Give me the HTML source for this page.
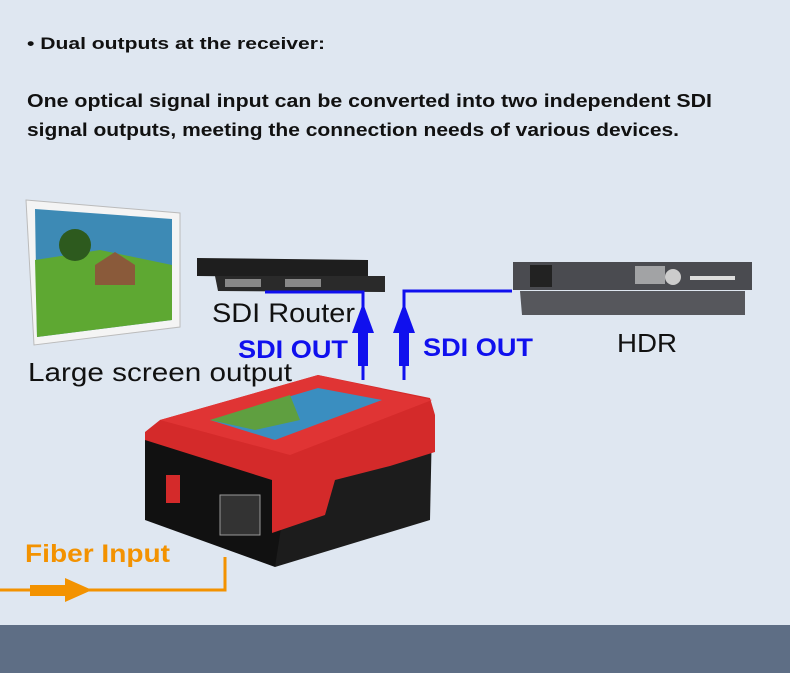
<!DOCTYPE html>
<html><head><meta charset="utf-8"><style>
html,body{margin:0;padding:0;background:#dfe7f1;}
svg{display:block}
text{font-family:"Liberation Sans","DejaVu Sans",sans-serif;}
</style></head><body>
<svg width="790" height="673" viewBox="0 0 790 673" xmlns="http://www.w3.org/2000/svg">
<rect width="790" height="673" fill="#dfe7f1"/>
<rect y="625" width="790" height="48" fill="#5e6e85"/>

<text x="27" y="49" font-size="17" font-weight="bold" fill="#111" textLength="298" lengthAdjust="spacingAndGlyphs">• Dual outputs at the receiver:</text>
<text x="27" y="107" font-size="18" font-weight="bold" fill="#111" textLength="685" lengthAdjust="spacingAndGlyphs">One optical signal input can be converted into two independent SDI</text>
<text x="27" y="136" font-size="18" font-weight="bold" fill="#111" textLength="652" lengthAdjust="spacingAndGlyphs">signal outputs, meeting the connection needs of various devices.</text>

<!-- projector screen -->
<polygon points="26,200 180,213 180,327 34,345" fill="#f4f4f4" stroke="#bbb"/>
<polygon points="35,209 172,219 172,320 37,337" fill="#3d8ab5"/>
<polygon points="35,260 100,250 172,265 172,320 37,337" fill="#5ea832"/>
<polygon points="95,265 115,252 135,265 135,285 95,285" fill="#8a5a3a"/>
<circle cx="75" cy="245" r="16" fill="#2d5a1e"/>

<!-- SDI router -->
<polygon points="197,258 368,260 368,278 197,276" fill="#1e1e1e"/>
<polygon points="215,276 385,276 385,292 218,291" fill="#2a2a2a"/>
<rect x="225" y="279" width="36" height="8" fill="#888"/>
<rect x="285" y="279" width="36" height="8" fill="#888"/>

<!-- HDR -->
<polygon points="513,262 752,262 752,290 513,290" fill="#4a4b50"/>
<rect x="530" y="265" width="22" height="22" fill="#222"/>
<rect x="635" y="266" width="30" height="18" fill="#ddd" opacity="0.6"/>
<circle cx="673" cy="277" r="8" fill="#ccc"/>
<rect x="690" y="276" width="45" height="4" fill="#ddd"/>
<polygon points="520,291 745,291 745,315 522,315" fill="#56575c"/>

<!-- blue lines -->
<g fill="none" stroke="#1010ee" stroke-width="3">
<polyline points="265,292 363,292 363,380"/>
<polyline points="512,291 404,291 404,380"/>
</g>
<g fill="#1010ee">
<polygon points="363,303 352,333 374,333"/><rect x="358" y="330" width="10" height="36"/>
<polygon points="404,303 393,333 415,333"/><rect x="399" y="330" width="10" height="36"/>
</g>

<text x="212" y="322" font-size="27" fill="#111" textLength="143" lengthAdjust="spacingAndGlyphs">SDI Router</text>
<text x="238" y="358" font-size="25" font-weight="bold" fill="#1010ee" textLength="110" lengthAdjust="spacingAndGlyphs">SDI OUT</text>
<text x="423" y="356" font-size="25" font-weight="bold" fill="#1010ee" textLength="110" lengthAdjust="spacingAndGlyphs">SDI OUT</text>
<text x="617" y="352" font-size="26" fill="#111" textLength="60" lengthAdjust="spacingAndGlyphs">HDR</text>
<text x="28" y="381" font-size="26" fill="#111" textLength="264" lengthAdjust="spacingAndGlyphs">Large screen output</text>

<!-- device -->
<polygon points="290,470 432,425 430,520 275,567 275,520" fill="#1c1c1c"/>
<polygon points="145,432 290,470 275,567 145,520" fill="#111"/>
<polygon points="145,432 160,420 318,375 430,398 435,415 435,452 390,466 335,480 325,515 272,533 272,480 145,440" fill="#d42a2a"/>
<polygon points="160,420 318,375 432,400 290,455" fill="#e03434"/>
<polygon points="210,420 318,388 382,400 275,440" fill="#3a8ec0"/>
<polygon points="210,420 290,395 300,420 255,430" fill="#5f9f40"/>
<rect x="166" y="475" width="14" height="28" fill="#d42a2a"/>
<rect x="220" y="495" width="40" height="40" fill="#333" stroke="#999"/>

<!-- fiber -->
<polyline points="0,590 225,590 225,557" fill="none" stroke="#f39200" stroke-width="3"/>
<rect x="30" y="585" width="38" height="11" fill="#f39200"/>
<polygon points="65,578 92,590 65,602" fill="#f39200"/>
<text x="25" y="562" font-size="25" font-weight="bold" fill="#f39200" textLength="145" lengthAdjust="spacingAndGlyphs">Fiber Input</text>
</svg>
</body></html>
